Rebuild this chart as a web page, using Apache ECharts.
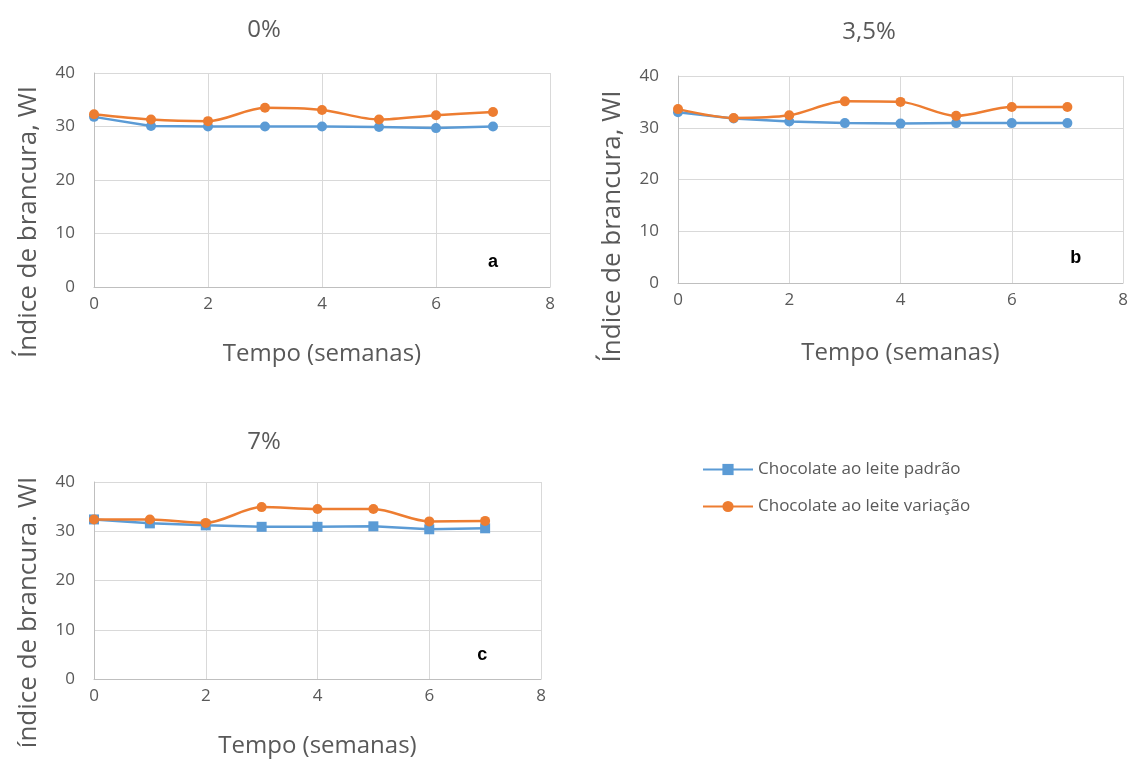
<!DOCTYPE html>
<html>
<head>
<meta charset="utf-8">
<script src="https://cdn.jsdelivr.net/npm/echarts@6/dist/echarts.min.js"></script>
<style>html,body{margin:0;padding:0;background:#fff}#chart{width:1134px;height:761px}</style>
</head>
<body>
<div id="chart"></div>
<script>
// Data
const weeks = [0, 1, 2, 3, 4, 5, 6, 7];
const seriesNames = ['Chocolate ao leite padrão', 'Chocolate ao leite variação'];
const panelTitles = ['0%', '3,5%', '7%'];
const panelLetters = ['a', 'b', 'c'];
const yAxisNames = ['Índice de brancura, WI', 'Índice de brancura, WI', 'índice de brancura. WI'];
const xAxisName = 'Tempo (semanas)';
const padrao0 = [31.8, 30.1, 30.0, 30.0, 30.0, 29.9, 29.7, 30.0];
const variacao0 = [32.3, 31.3, 31.0, 33.5, 33.1, 31.3, 32.1, 32.7];
const padrao35 = [33.0, 31.8, 31.2, 30.9, 30.8, 30.9, 30.9, 30.9];
const variacao35 = [33.6, 31.9, 32.4, 35.1, 35.0, 32.3, 34.0, 34.0];
const padrao7 = [32.4, 31.6, 31.2, 30.9, 30.9, 31.0, 30.4, 30.6];
const variacao7 = [32.4, 32.4, 31.7, 34.9, 34.5, 34.5, 32.0, 32.1];

const BLUE = '#5B9BD5', ORANGE = '#ED7D31', TXT = '#595959';
const FONT = '"Open Sans", sans-serif';

const grids = [
  {left: 94, top: 73, width: 456, height: 214},
  {left: 678, top: 76, width: 445, height: 207},
  {left: 94, top: 482, width: 447, height: 197}
];
const titlePos = [{x: 259, y: 13}, {x: 864, y: 15}, {x: 259, y: 425}];
const letterCoords = [[7, 4.6], [7.15, 4.8], [6.95, 4.8]];
const yNameShift = [84, 94, 64];
const xNameGap = [55, 58, 55];

const pairs = [[padrao0, variacao0], [padrao35, variacao35], [padrao7, variacao7]];
const blueSymbols = ['circle', 'circle', 'rect'];

function toXY(arr) { return weeks.map((w, i) => [w, arr[i]]); }

const series = [];
// panel c first so the legend uses its square marker
[2, 0, 1].forEach(p => {
  series.push({
    name: seriesNames[0], type: 'line', xAxisIndex: p, yAxisIndex: p,
    data: toXY(pairs[p][0]), symbol: blueSymbols[p], symbolSize: 10,
    itemStyle: {color: BLUE}, lineStyle: {color: BLUE, width: 2.5}, z: 3
  });
  series.push({
    name: seriesNames[1], type: 'line', xAxisIndex: p, yAxisIndex: p, smooth: 0.3,
    data: toXY(pairs[p][1]), symbol: 'circle', symbolSize: 10,
    itemStyle: {color: ORANGE}, lineStyle: {color: ORANGE, width: 2.5}, z: 4,
    markPoint: {
      symbol: 'circle', symbolSize: 0, silent: true,
      data: [{coord: letterCoords[p]}],
      label: {show: true, formatter: panelLetters[p], color: '#000', fontWeight: 'bold', fontSize: 18, fontFamily: 'Liberation Sans, Arial, sans-serif'}
    }
  });
});

const option = {
  animation: false,
  backgroundColor: '#fff',
  title: panelTitles.map((t, i) => ({
    text: t, left: titlePos[i].x, top: titlePos[i].y, textAlign: 'center',
    textStyle: {color: TXT, fontSize: 24, fontWeight: 'normal', fontFamily: FONT}
  })),
  legend: {
    orient: 'vertical', left: 697, top: 456, itemGap: 20, itemWidth: 50, itemHeight: 14,
    data: seriesNames,
    textStyle: {color: TXT, fontSize: 17, fontFamily: FONT}
  },
  grid: grids,
  xAxis: grids.map((g, i) => ({
    type: 'value', gridIndex: i, min: 0, max: 8, interval: 2,
    name: xAxisName, nameLocation: 'middle', nameGap: xNameGap[i],
    nameTextStyle: {color: TXT, fontSize: 24, fontFamily: FONT},
    axisLine: {show: true, lineStyle: {color: '#BFBFBF'}},
    axisTick: {show: false},
    axisLabel: {color: TXT, fontSize: 17, fontFamily: FONT, margin: 9},
    splitLine: {show: true, lineStyle: {color: '#D9D9D9'}}
  })),
  yAxis: grids.map((g, i) => ({
    type: 'value', gridIndex: i, min: 0, max: 40, interval: 10,
    name: yAxisNames[i], nameLocation: 'middle', nameGap: 52, nameRotate: 90,
    nameTextStyle: {color: TXT, fontSize: 26, fontFamily: FONT, padding: [0, yNameShift[i], 0, 0]},
    axisLine: {show: true, lineStyle: {color: '#BFBFBF'}},
    axisTick: {show: false},
    axisLabel: {color: TXT, fontSize: 17, fontFamily: FONT, margin: 19},
    splitLine: {show: true, lineStyle: {color: '#D9D9D9'}}
  })),
  series: series
};

const chart = echarts.init(document.getElementById('chart'), null, {renderer: 'canvas'});
chart.setOption(option);
</script>
</body>
</html>
